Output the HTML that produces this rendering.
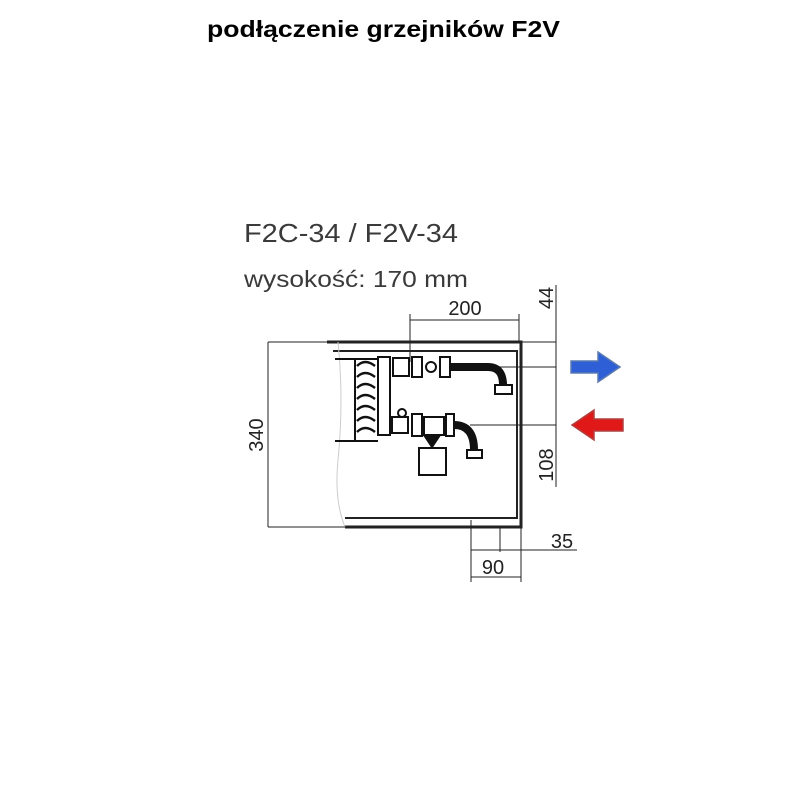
<!DOCTYPE html>
<html><head><style>
body{margin:0;background:#fff;width:800px;height:800px;overflow:hidden}
svg{display:block}
</style></head><body>
<svg width="800" height="800" viewBox="0 0 800 800" xmlns="http://www.w3.org/2000/svg">
<text x="207" y="37" textLength="353" lengthAdjust="spacingAndGlyphs" font-family="Liberation Sans, sans-serif" font-weight="bold" font-size="23" fill="#000">podłączenie grzejników F2V</text>
<text x="244" y="242" textLength="214" lengthAdjust="spacingAndGlyphs" font-family="Liberation Sans, sans-serif" font-size="26" fill="#3a3a3a">F2C-34 / F2V-34</text>
<text x="244" y="287" textLength="224" lengthAdjust="spacingAndGlyphs" font-family="Liberation Sans, sans-serif" font-size="23" fill="#3a3a3a">wysokość: 170 mm</text>
<g stroke="#222" fill="none">
<path d="M327 342 H521 V527 H345" stroke-width="3"/>
<path d="M333 351 H517 V518 H345" stroke-width="2"/>
<path d="M338 342 Q344 400 338 460 Q334 500 345 527" stroke="#ccc" stroke-width="1"/>
<path d="M268 342 H327 M268 527 H345 M268 342 V527" stroke-width="1"/>
<path d="M410 320 H519 M410 314 V362 M519 314 V342" stroke-width="1"/>
<path d="M556 285 V487 M521 342 H556 M500 367 H556 M470 425 H556" stroke-width="1"/>
<path d="M471 520 V582 M500 527 V552 M521 527 V582 M471 550 H577 M471 577 H521" stroke-width="1"/>
</g>
<g font-family="Liberation Sans, sans-serif" font-size="20" fill="#222">
<text x="465" y="315" text-anchor="middle">200</text>
<text transform="translate(263,435) rotate(-90)" text-anchor="middle">340</text>
<text transform="translate(553,298) rotate(-90)" text-anchor="middle">44</text>
<text transform="translate(553,465) rotate(-90)" text-anchor="middle">108</text>
<text x="562" y="548" text-anchor="middle">35</text>
<text x="493" y="574" text-anchor="middle">90</text>
</g>
<g stroke="#111" fill="none" stroke-width="2">
<path d="M335 359 H378 M335 441 H378 M355 359 V441"/>
<rect x="378" y="357" width="12" height="78" fill="#fff"/>
<path d="M357 366 q8 -8 18 0 M357 377 q8 -8 18 0 M357 388 q8 -8 18 0 M357 399 q8 -8 18 0 M357 410 q8 -8 18 0 M357 421 q8 -8 18 0 M357 432 q8 -8 18 0" stroke-width="2.5"/>
<rect x="393" y="358" width="16" height="18"/>
<rect x="412" y="357" width="10" height="20"/>
<circle cx="431" cy="367" r="5"/>
<rect x="440" y="357" width="10" height="20"/>
<path d="M450 367 H488 Q503 367 503 385" stroke-width="8"/>
<rect x="495" y="385" width="17" height="9"/>
<rect x="392" y="417" width="16" height="16"/>
<circle cx="402" cy="413" r="4"/>
<rect x="412" y="414" width="10" height="22"/>
<rect x="424" y="417" width="20" height="18"/>
<rect x="446" y="414" width="8" height="22"/>
<path d="M454 425 Q474 425 474 450" stroke-width="8"/>
<rect x="467" y="450" width="15" height="8"/>
<path d="M424 435 L432 447 L440 435 Z" fill="#111"/>
<rect x="419" y="448" width="27" height="27"/>
</g>
<path d="M571 361 H598 V352 L620 367 L598 382 V373 H571 Z" fill="#2f5fd6" stroke="#5b7bb0" stroke-width="1.5"/>
<path d="M623 419 H594 V410 L572 425 L594 440 V431 H623 Z" fill="#e01818" stroke="#b04040" stroke-width="1.5"/>
</svg>
</body></html>
